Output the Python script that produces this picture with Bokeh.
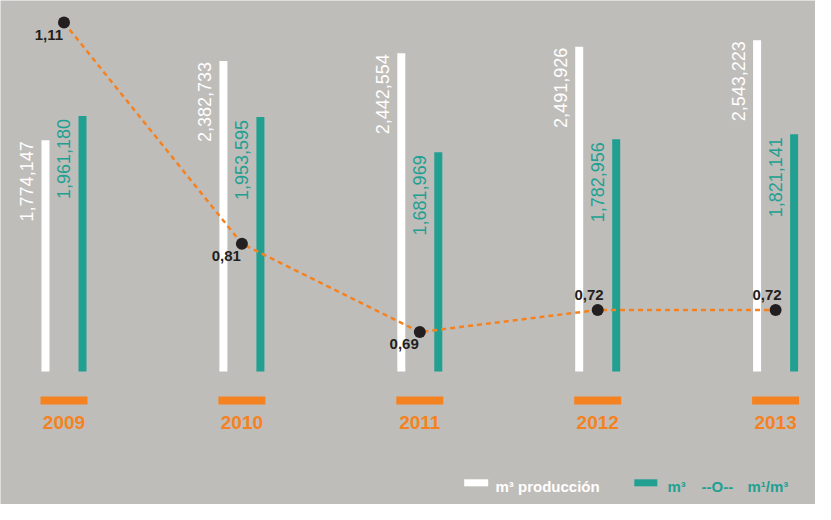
import numpy as np
from bokeh.plotting import figure
from bokeh.models import Range1d, ColumnDataSource
from bokeh.core.properties import value
from bokeh.embed import file_html
from bokeh.resources import INLINE

# ---------------- data ----------------
years = ["2009", "2010", "2011", "2012", "2013"]
production_m3 = [1774147, 2382733, 2442554, 2491926, 2543223]
m3 = [1961180, 1953595, 1681969, 1782956, 1821141]
ratio = [1.11, 0.81, 0.69, 0.72, 0.72]
ratio_labels = ["1,11", "0,81", "0,69", "0,72", "0,72"]
ratio_label_side = ["below", "below", "below", "above", "above"]

legend_prod = "m³ producción"
legend_m3 = "m³"
legend_line = "--O--"
legend_ratio = "m¹/m³"

# ---------------- style / layout ----------------
GRAY = "#bfbdba"
TEAL = "#21a092"
ORANGE = "#f58220"
DOT = "#231f20"
FONT = value("Liberation Sans")

W, H = 815, 504
PX_PER_X = 177.9        # pixels per category step
X0_PX = 63.5            # pixel of first category
BASE_PX = 371           # pixel row of bar baseline
UNITS_PER_PX = 7675     # bar value units per pixel
R_START, R_END = 0.456, 1.140
R_UNITS_PER_PX = (R_END - R_START) / H
DODGE = 18.5 / PX_PER_X
BAR_W = 8 / PX_PER_X

p = figure(width=W, height=H,
           x_range=Range1d(-X0_PX / PX_PER_X, (W - X0_PX) / PX_PER_X),
           y_range=Range1d(-(H - BASE_PX) * UNITS_PER_PX, BASE_PX * UNITS_PER_PX),
           x_axis_location=None, y_axis_location=None,
           toolbar_location=None, output_backend="svg", min_border=0,
           background_fill_color=GRAY, border_fill_color=GRAY,
           outline_line_color=None)
p.grid.visible = False
p.extra_y_ranges = {"ratio": Range1d(R_START, R_END)}


def fx(px):
    return p.x_range.start + px / PX_PER_X


def fy(py):
    return p.y_range.end - py * UNITS_PER_PX


x = np.arange(len(years))

# bars
p.vbar(x=x - DODGE, top=production_m3, bottom=0, width=BAR_W,
       fill_color="white", line_color=None)
p.vbar(x=x + DODGE, top=m3, bottom=0, width=BAR_W,
       fill_color=TEAL, line_color=None)

# rotated value labels
lab_off = 19 / PX_PER_X
src_w = ColumnDataSource(dict(
    x=x - DODGE - lab_off,
    y=np.array(production_m3) - 1 * UNITS_PER_PX,
    t=[f"{v:,}" for v in production_m3]))
p.text(x="x", y="y", text="t", source=src_w, angle=np.pi / 2,
       text_align="right", text_baseline="alphabetic",
       text_font=FONT, text_font_size="18px", text_color="white")
src_t = ColumnDataSource(dict(
    x=x + DODGE - lab_off,
    y=np.array(m3) - 3 * UNITS_PER_PX,
    t=[f"{v:,}" for v in m3]))
p.text(x="x", y="y", text="t", source=src_t, angle=np.pi / 2,
       text_align="right", text_baseline="alphabetic",
       text_font=FONT, text_font_size="18px", text_color=TEAL)

# orange year markers and year labels
p.rect(x=x, y=[fy(400)] * len(x), width=47, height=8,
       width_units="screen", height_units="screen",
       fill_color=ORANGE, line_color=None)
p.text(x=x, y=[fy(422)] * len(x), text=years, text_align="center",
       text_baseline="middle", text_font=FONT, text_font_size="19px",
       text_font_style="bold", text_color=ORANGE)

# ratio line
p.line(x, ratio, y_range_name="ratio", line_color=ORANGE,
       line_width=2.5, line_dash="5 4")
p.scatter(x, ratio, y_range_name="ratio", size=12,
          fill_color=DOT, line_color=None)

below = [i for i, s in enumerate(ratio_label_side) if s == "below"]
above = [i for i, s in enumerate(ratio_label_side) if s == "above"]
p.text(x=[x[i] - 1 / PX_PER_X for i in below],
       y=[ratio[i] - 7 * R_UNITS_PER_PX for i in below],
       text=[ratio_labels[i] for i in below], y_range_name="ratio",
       text_align="right", text_baseline="top", text_font=FONT,
       text_font_size="15px", text_font_style="bold", text_color=DOT)
p.text(x=[x[i] + 6 / PX_PER_X for i in above],
       y=[ratio[i] + 15 * R_UNITS_PER_PX for i in above],
       text=[ratio_labels[i] for i in above], y_range_name="ratio",
       text_align="right", text_baseline="alphabetic", text_font=FONT,
       text_font_size="15px", text_font_style="bold", text_color=DOT)

# legend
p.rect(x=[fx(475.7)], y=[fy(482.3)], width=24, height=7,
       width_units="screen", height_units="screen",
       fill_color="white", line_color=None)
p.rect(x=[fx(645.3)], y=[fy(482.3)], width=23, height=7,
       width_units="screen", height_units="screen",
       fill_color=TEAL, line_color=None)
p.text(x=[fx(495)], y=[fy(486)], text=[legend_prod],
       text_align="left", text_baseline="alphabetic", text_font=FONT,
       text_font_size="15px", text_font_style="bold", text_color="white")
p.text(x=[fx(667), fx(701), fx(747)], y=[fy(486)] * 3,
       text=[legend_m3, legend_line, legend_ratio],
       text_align="left", text_baseline="alphabetic", text_font=FONT,
       text_font_size="15px", text_font_style="bold", text_color=TEAL)

open("out.html", "w").write(file_html(p, INLINE))
